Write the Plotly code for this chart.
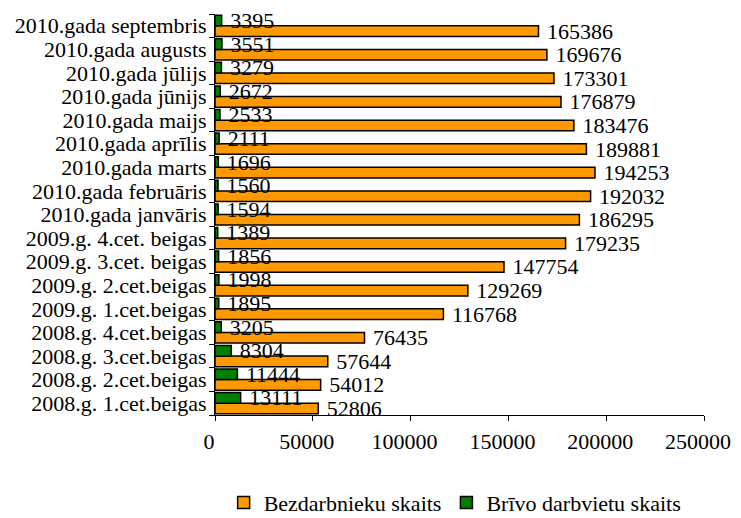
import plotly.graph_objects as go

categories = [
    "2008.g. 1.cet.beigas", "2008.g. 2.cet.beigas", "2008.g. 3.cet.beigas",
    "2008.g. 4.cet.beigas", "2009.g. 1.cet.beigas", "2009.g. 2.cet.beigas",
    "2009.g. 3.cet. beigas", "2009.g. 4.cet. beigas", "2010.gada janvāris",
    "2010.gada februāris", "2010.gada marts", "2010.gada aprīlis",
    "2010.gada maijs", "2010.gada jūnijs", "2010.gada jūlijs",
    "2010.gada augusts", "2010.gada septembris",
]
bezdarbnieki = [52806, 54012, 57644, 76435, 116768, 129269, 147754, 179235,
                186295, 192032, 194253, 189881, 183476, 176879, 173301,
                169676, 165386]
brivas_vietas = [13111, 11444, 8304, 3205, 1895, 1998, 1856, 1389, 1594,
                 1560, 1696, 2111, 2533, 2672, 3279, 3551, 3395]
x_ticks = [0, 50000, 100000, 150000, 200000, 250000]

FONT = "Liberation Serif"

fig = go.Figure()
fig.add_trace(go.Bar(
    y=categories, x=bezdarbnieki, orientation="h",
    name="Bezdarbnieku skaits",
    marker=dict(color="#FF9900", line=dict(color="black", width=1.5)),
    text=[str(v) for v in bezdarbnieki],
    texttemplate="\u00a0%{text}", textposition="outside",
    textfont=dict(family=FONT, size=22, color="black"),
    constraintext="none", cliponaxis=False,
))
fig.add_trace(go.Bar(
    y=categories, x=brivas_vietas, orientation="h",
    name="Brīvo darbvietu skaits",
    marker=dict(color="#008000", line=dict(color="black", width=1.5)),
    text=[str(v) for v in brivas_vietas],
    texttemplate="\u00a0%{text}", textposition="outside",
    textfont=dict(family=FONT, size=22, color="black"),
    constraintext="none", cliponaxis=False,
))

fig.update_layout(
    width=733, height=510,
    barmode="group", bargap=0.1, bargroupgap=0,
    plot_bgcolor="white", paper_bgcolor="white",
    margin=dict(l=207, r=37, t=6, b=103),
    font=dict(family=FONT, size=22, color="black"),
    legend=dict(
        orientation="h", x=0.61, xanchor="center", xref="container",
        yref="container", y=0.03, yanchor="middle",
        font=dict(family=FONT, size=22, color="black"),
        traceorder="normal",
    ),
    xaxis=dict(
        range=[0, 250000], tickvals=x_ticks,
        ticktext=[str(v) for v in x_ticks],
        showgrid=False, zeroline=False,
        showline=True, linecolor="black", linewidth=1,
        ticks="outside", ticklen=5, tickcolor="black",
        ticklabelstandoff=2, ticklabelshift=-6,
        tickfont=dict(family=FONT, size=22, color="black"),
    ),
    yaxis=dict(
        type="category", showgrid=False, zeroline=False,
        showline=True, linecolor="black", linewidth=1,
        ticks="outside", ticklen=5, tickcolor="black",
        tickson="boundaries", automargin=False,
        tickmode="array", tickvals=categories, ticktext=categories,
        ticklabelstandoff=3,
        tickfont=dict(family=FONT, size=22, color="black"),
    ),
)

fig.write_html("out.html")
